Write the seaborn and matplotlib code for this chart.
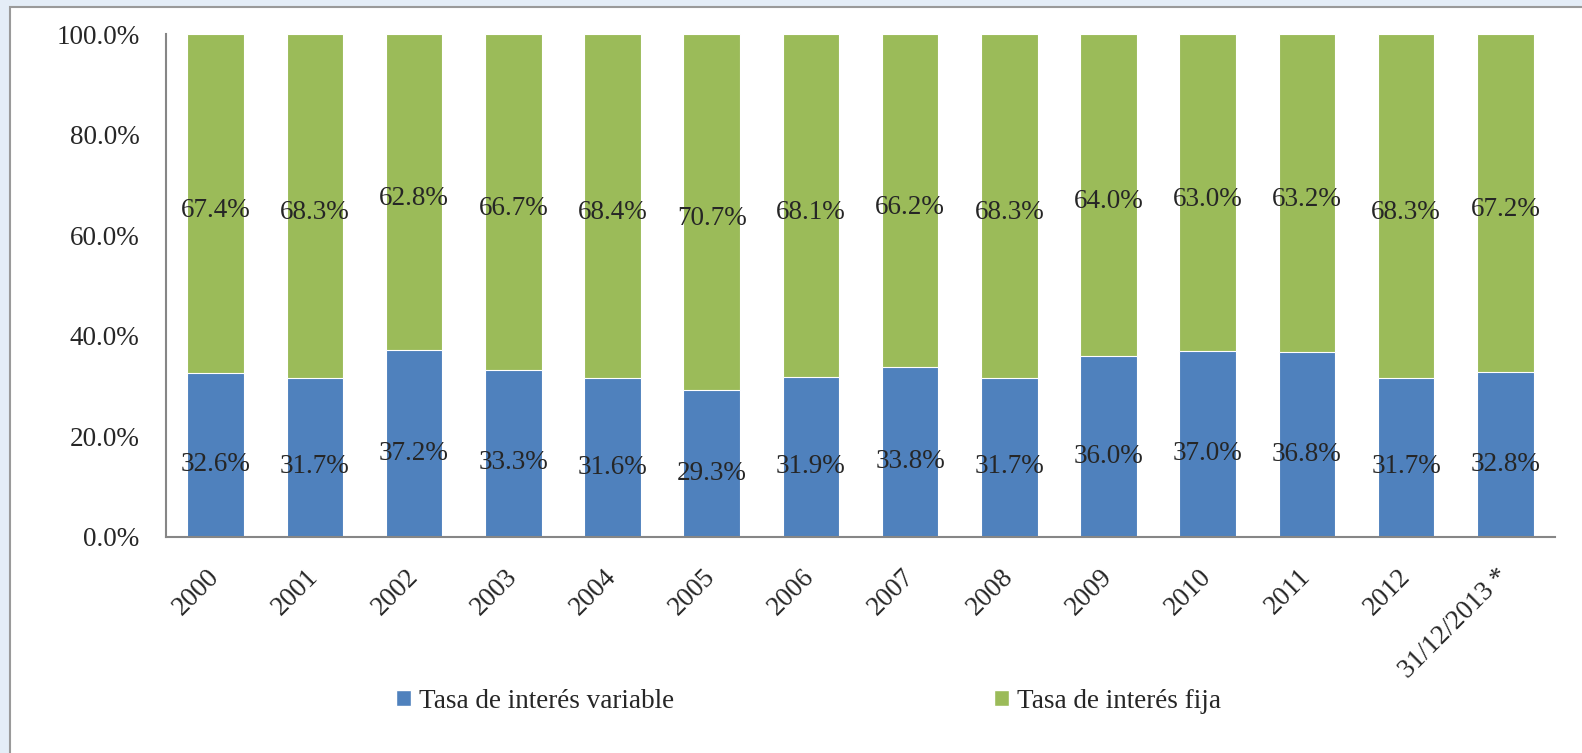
import numpy as np
import pandas as pd
import matplotlib
matplotlib.use('Agg')
import matplotlib.pyplot as plt
from matplotlib.patches import Patch, Rectangle
import seaborn as sns

years = ['2000', '2001', '2002', '2003', '2004', '2005', '2006',
         '2007', '2008', '2009', '2010', '2011', '2012', '31/12/2013 *']
variable = [32.6, 31.7, 37.2, 33.3, 31.6, 29.3, 31.9, 33.8, 31.7, 36.0, 37.0, 36.8, 31.7, 32.8]
fija = [67.4, 68.3, 62.8, 66.7, 68.4, 70.7, 68.1, 66.2, 68.3, 64.0, 63.0, 63.2, 68.3, 67.2]

blue = '#4F81BD'
green = '#9BBB59'
fs = 19.5

df = pd.DataFrame({'year': years, 'variable': variable, 'fija': fija})
df['total'] = df['variable'] + df['fija']

sns.set_style('white')
plt.rcParams['font.family'] = ['Liberation Serif', 'DejaVu Serif']
plt.rcParams['font.size'] = fs

fig = plt.figure(figsize=(15.82, 7.53), dpi=100)
fig.patch.set_facecolor('#e4edf7')
# white chart card with grey border, behind the axes
card = Rectangle((10 / 1582, -0.05), 1.1, 1 - 7 / 753 + 0.05, transform=fig.transFigure,
                 facecolor='white', edgecolor='#9a9a9a', linewidth=1.5, zorder=-1)
fig.patches.append(card)

ax = fig.add_axes([166 / 1582, 1 - 537 / 753, (1555 - 166) / 1582, (537 - 34) / 753])
ax.set_facecolor('white')

# stacked bars: green total first, blue variable over it
sns.barplot(data=df, x='year', y='total', color=green, saturation=1, width=0.57,
            edgecolor='white', linewidth=0.8, ax=ax)
sns.barplot(data=df, x='year', y='variable', color=blue, saturation=1, width=0.57,
            edgecolor='white', linewidth=0.8, ax=ax)

# segment labels, nudged a bit down like excel does
for i, (v, f) in enumerate(zip(variable, fija)):
    ax.annotate(f'{v:.1f}%', (i, v / 2), xytext=(0, -7), textcoords='offset points',
                ha='center', va='center', fontsize=fs)
    ax.annotate(f'{f:.1f}%', (i, v + f / 2), xytext=(0, -5), textcoords='offset points',
                ha='center', va='center', fontsize=fs)

ax.set_ylim(0, 100)
ax.set_xlim(-0.5, len(years) - 0.5)
ax.set_yticks(np.arange(0, 101, 20))
ax.set_yticklabels([f'{t:.1f}%' for t in np.arange(0, 101, 20)])
ax.set_xlabel('')
ax.set_ylabel('')
ax.tick_params(axis='y', length=0, pad=19, labelsize=fs)
ax.tick_params(axis='x', length=0, pad=26, labelsize=fs)
for lbl in ax.get_xticklabels():
    lbl.set_rotation(45)
    lbl.set_ha('right')
    lbl.set_va('center')
    lbl.set_rotation_mode('anchor')

sns.despine(ax=ax)
for side in ['left', 'bottom']:
    ax.spines[side].set_color('#868686')
    ax.spines[side].set_linewidth(1.5)

handles = [Patch(facecolor=blue, label='Tasa de interés variable'),
           Patch(facecolor=green, label='Tasa de interés fija')]
fig.legend(handles=handles, loc='center', bbox_to_anchor=(0.511, 1 - 701 / 753), ncol=2,
           frameon=False, fontsize=fs, handlelength=0.55, handleheight=0.55,
           handletextpad=0.3, columnspacing=11.8)

fig.savefig('out.png', dpi=100, facecolor=fig.get_facecolor())
